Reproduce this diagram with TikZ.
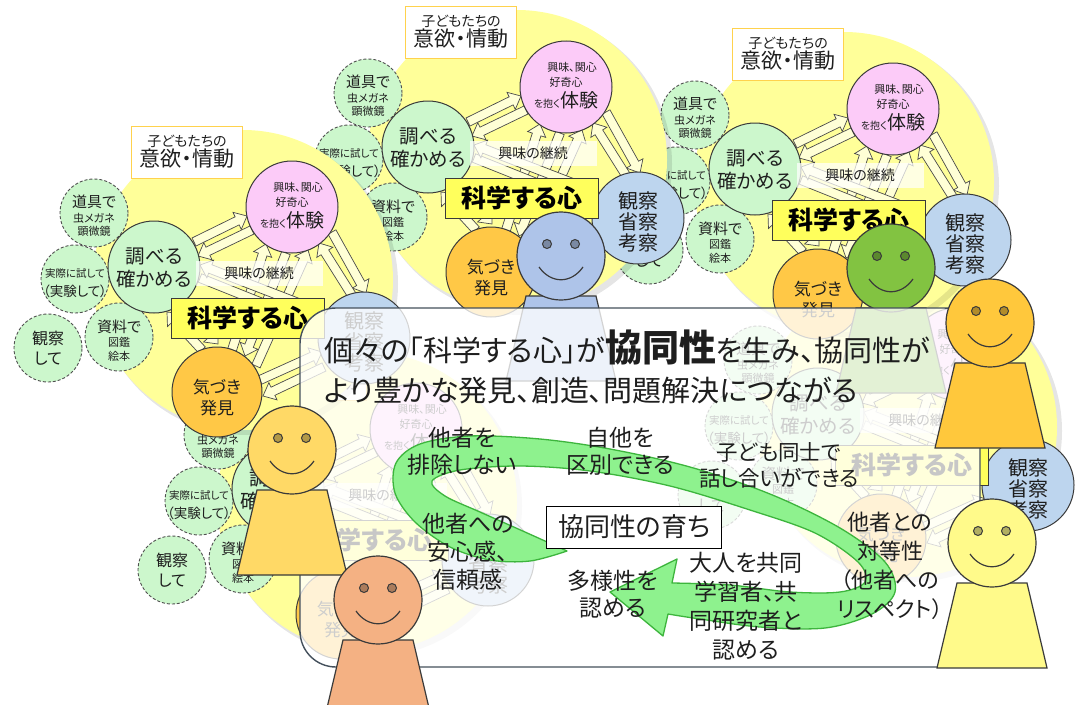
\documentclass[tikz,border=0pt]{standalone}
\usepackage{fontspec}
\setmainfont{Noto Sans CJK JP}[RawFeature={+palt}]
\usetikzlibrary{calc}

\definecolor{discyel}{HTML}{FFFF99}
\definecolor{pinkc}{HTML}{FCCBF8}
\definecolor{mintc}{HTML}{CCF7CC}
\definecolor{bluec}{HTML}{BDD5EE}
\definecolor{goldc}{HTML}{FFC846}
\definecolor{boxyel}{HTML}{FFFF5C}
\definecolor{lineg}{HTML}{3A3A3A}
\definecolor{satline}{HTML}{505050}
\definecolor{inkc}{HTML}{1E1E1E}
\definecolor{labelgold}{HTML}{FFD24D}
\definecolor{arrowfill}{HTML}{FFFFD6}
\definecolor{arrowline}{HTML}{4A4A4A}
\definecolor{bandfill}{HTML}{8EF28E}
\definecolor{bandline}{HTML}{3DB53D}
\definecolor{panelline}{HTML}{44505C}
\definecolor{headblue}{HTML}{AEC4E9}
\definecolor{headgreen}{HTML}{82C341}
\definecolor{headgold}{HTML}{FFC83C}
\definecolor{headlemon}{HTML}{FFFA8A}
\definecolor{headsun}{HTML}{FFD966}
\definecolor{headsalmon}{HTML}{F4B183}

\newcommand\fs[2]{\fontsize{#1}{#2}\selectfont}

\tikzset{
  txt/.style={inner sep=0, text=inkc, align=center},
  sat/.style={circle, inner sep=0, minimum size=68, fill=mintc, draw=satline,
              line width=0.9, dash pattern=on 3pt off 2pt},
  mainc/.style={circle, inner sep=0, minimum size=92, draw=lineg, line width=1},
  harrowsty/.style={draw=arrowline, fill=arrowfill, line width=0.7, line join=miter},
  bandsty/.style={fill=bandfill, draw=bandline, line width=1.3, line join=round},
  personline/.style={draw=lineg, line width=1.2},
}

% hollow block arrow from (x1,y1) to (x2,y2)
\newcommand\harrow[4]{%
  \pgfmathsetmacro\hang{atan2((#2)-(#4),(#3)-(#1))}%
  \pgfmathsetmacro\hlen{veclen((#3)-(#1),(#4)-(#2))}%
  \pgfmathsetmacro\hneck{\hlen-11}%
  \draw[harrowsty,shift={(#1,#2)},rotate=\hang]
    (0,-4.5) -- (\hneck,-4.5) -- (\hneck,-9.5) -- (\hlen,0) --
    (\hneck,9.5) -- (\hneck,4.5) -- (0,4.5) -- cycle;}

% one "science mind" cluster, drawn at an offset
\newcommand\cluster[2]{%
\begin{scope}[shift={#2}]
  \fill[black,opacity=0.10] (521,164) circle[radius=151];
  \node[circle, inner sep=0, minimum size=300, fill=discyel] (#1-disc) at (517,160) {};
  \node[sat] (#1-tool) at (368,93) {};
  \node[sat] (#1-try) at (349,159) {};
  \node[sat] (#1-book) at (393,217) {};
  \node[sat] (#1-look) at (322,228) {};
  \node[txt, font=\fs{15}{17}] (#1-t1) at (368,82) {道具で};
  \node[txt, font=\fs{11}{13}] (#1-t2) at (368,98) {虫メガネ};
  \node[txt, font=\fs{11}{13}] (#1-t3) at (368,111) {顕微鏡};
  \node[txt, font=\fs{10.5}{12}] (#1-t4) at (349,154) {実際に試して};
  \node[txt, font=\fs{13.5}{15}] (#1-t5) at (349,171) {（実験して）};
  \node[txt, font=\fs{15}{17}] (#1-t6) at (393,207) {資料で};
  \node[txt, font=\fs{11}{13}] (#1-t7) at (393,222) {図鑑};
  \node[txt, font=\fs{11}{13}] (#1-t8) at (393,236) {絵本};
  \node[txt, font=\fs{16}{20}] (#1-t9) at (322,228) {観察\\して};
  \harrow{468}{122}{521}{96}
  \harrow{526}{110}{472}{136}
  \harrow{606}{112}{640}{173}
  \harrow{627}{177}{593}{123}
  \harrow{598}{247}{537}{276}
  \harrow{534}{260}{596}{232}
  \harrow{476}{230}{441}{192}
  \harrow{458}{185}{492}{224}
  \harrow{506}{230}{540}{124}
  \harrow{560}{133}{519}{236}
  \harrow{530}{246}{582}{130}
  \harrow{474}{158}{594}{206}
  \harrow{596}{192}{474}{145}
  \node[mainc, fill=mintc] (#1-check) at (428,147) {};
  \node[mainc, fill=pinkc] (#1-exp) at (566,87) {};
  \node[mainc, fill=bluec] (#1-obs) at (638,218) {};
  \node[mainc, fill=goldc, minimum size=90] (#1-find) at (491,272) {};
  \node[txt, font=\fs{19.5}{23}] (#1-t10) at (428,148) {調べる\\確かめる};
  \node[txt, font=\fs{11}{13}] (#1-t11) at (572,67) {興味、関心};
  \node[txt, font=\fs{11}{13}] (#1-t12) at (566,82) {好奇心};
  \node[txt, anchor=base] (#1-t13) at (566,107) {\fs{10}{12}を抱く\fs{19}{22}体験};
  \node[txt, font=\fs{20}{21}] (#1-t14) at (638,222) {観察\\省察\\考察};
  \node[txt, font=\fs{17}{21}] (#1-t15) at (491,278) {気づき\\発見};
  \node[inner sep=0, fill=white, fill opacity=0.72, minimum width=127, minimum height=25]
    (#1-keep) at (533,153) {};
  \node[txt, font=\fs{14}{16}] (#1-t16) at (#1-keep) {興味の継続};
  \node[draw=lineg, line width=1, fill=boxyel, minimum width=153, minimum height=40, inner sep=0]
    (#1-heart) at (522,198) {\fs{25}{28}\bfseries 科学する心};
  \node[draw=labelgold, line width=1, fill=white, minimum width=111, minimum height=52,
        inner sep=0, align=center, text=inkc]
    (#1-label) at (461,32) {{\fs{14}{18}子どもたちの}\\{\fs{21}{24}意欲・情動}};
\end{scope}}

% a smiling figure; head centre at (x,y)
\newcommand\person[4]{%
\begin{scope}[shift={(#2,#3)}]
  \draw[personline, fill=#4] (-35,40) -- (35,40) -- (55,125) -- (-55,125) -- cycle;
  \node[circle, inner sep=0, minimum size=88, personline, fill=#4] (#1) at (0,0) {};
  \draw[draw=lineg, line width=1, fill=#4!70!black] (-14,-12) circle[radius=4.5]
        (14,-12) circle[radius=4.5];
  \draw[lineg, line width=1.2] (-22,11) .. controls (-10,28) and (10,28) .. (22,11);
\end{scope}}

\begin{document}
\begin{tikzpicture}[x=1pt,y=-1pt]
\useasboundingbox (0,0) rectangle (1084,704);
\clip (0,0) rectangle (1084,704);
\fill[white] (0,0) rectangle (1084,704);

\cluster{c4}{(390,267)}
\cluster{c5}{(-150,342)}
\cluster{c3}{(327,22)}
\cluster{c2}{(0,0)}
\cluster{c1}{(-274,120)}

\person{pblue}{561}{256}{headblue}
\person{pgreen}{891}{268}{headgreen}

% translucent message panel
\node[draw=panelline, line width=1.4, rounded corners=36, fill=white, fill opacity=0.78,
      draw opacity=1, minimum width=680, minimum height=359, inner sep=0]
  (panel) at (640,487.5) {};

\node[txt, anchor=base west, font=\fs{29}{33}] (head1) at (324,361)
  {個々の「科学する心」が{\fs{37}{40}\bfseries 協同性}を生み、協同性が};
\node[txt, anchor=base west, font=\fs{29}{33}] (head2) at (324,401)
  {より豊かな発見、創造、問題解決につながる};

% green cycle arrow
\draw[bandsty] (567,551)
  -- plot[smooth, tension=0.55] coordinates {(567,551) (530,561) (490,560) (450,547)
      (415,522) (395,493) (396,463) (420,444) (470,436) (540,439) (610,449) (690,467)
      (770,494) (840,528) (885,562) (895,592) (872,614) (825,628) (760,627) (700,619) (668,614)}
  -- (663,636) -- (610,592) -- (677,559)
  -- plot[smooth, tension=0.55] coordinates {(672,583) (730,585) (790,592) (840,592)
      (865,582) (858,562) (815,533) (750,510) (670,486) (590,471) (520,466) (460,470)
      (432,481) (445,496) (480,512) (525,532) (567,551)}
  -- cycle;

\node[draw=black, line width=1, fill=white, minimum width=175, minimum height=42, inner sep=0,
      font=\fs{26}{30}, text=inkc] (grow) at (634,527) {協同性の育ち};

\node[txt, font=\fs{23}{27}] (exclude) at (462,451) {他者を\\排除しない};
\node[txt, font=\fs{23}{27}] (distinct) at (620,451) {自他を\\区別できる};
\node[txt, font=\fs{21.5}{26}] (talk) at (779,465) {子ども同士で\\話し合いができる};
\node[txt, font=\fs{23}{28}] (relief) at (468,552) {他者への\\安心感、\\信頼感};
\node[txt, font=\fs{23}{27}] (diverse) at (613,594) {多様性を\\認める};
\node[txt, font=\fs{23}{29}] (adult) at (746,606) {大人を共同\\学習者、共\\同研究者と\\認める};
\node[txt, font=\fs{22}{29}] (equal) at (890,566) {他者との\\対等性\\（他者への\\リスペクト）};

\person{psun}{292}{450}{headsun}
\person{psalmon}{378}{600}{headsalmon}
\person{pgold}{990}{323}{headgold}
\person{plemon}{992}{543}{headlemon}
\end{tikzpicture}
\end{document}
